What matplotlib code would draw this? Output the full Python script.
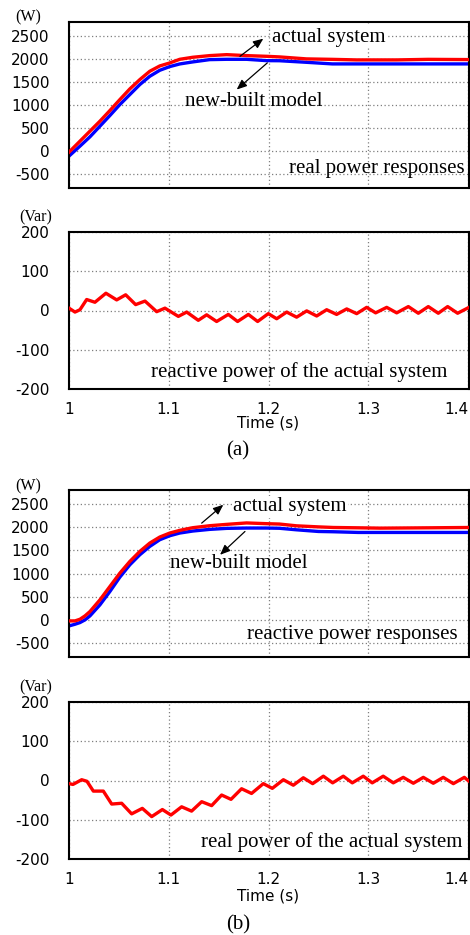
#! /usr/bin/env python
import matplotlib
matplotlib.use('Agg')
import matplotlib.pyplot as plt, numpy as np

"""
Step response of the inverter: real / reactive power, actual system vs new-built model
"""

plt.rcParams['axes.unicode_minus'] = False

# (a) real power step
t_pa = [1.0, 1.011, 1.021, 1.031, 1.041, 1.051, 1.061, 1.071, 1.081, 1.091,
        1.101, 1.111, 1.124, 1.141, 1.158, 1.178, 1.198, 1.211, 1.238, 1.264,
        1.288, 1.3285, 1.36, 1.401]
P_act_a = [-22, 216, 433, 649, 880, 1118, 1349, 1551, 1732, 1847,
           1912, 1991, 2035, 2071, 2092, 2071, 2056, 2043, 2000, 1990,
           1978, 1978, 1990, 1985]
P_mod_a = [-108, 108, 310, 541, 772, 1010, 1227, 1443, 1623, 1753,
           1833, 1890, 1934, 1984, 1991, 1991, 1962, 1960, 1926, 1891,
           1891, 1891, 1891, 1891]

t_qa = [1.0, 1.006, 1.011, 1.0177, 1.026, 1.037, 1.0478, 1.0568, 1.0668, 1.0762,
        1.0879, 1.0962, 1.1096, 1.118, 1.1296, 1.138, 1.148, 1.1597, 1.169, 1.1798,
        1.1891, 1.1998, 1.2082, 1.2182, 1.2282, 1.2383, 1.2483, 1.2583, 1.2683, 1.2784,
        1.2884, 1.2984, 1.3074, 1.3185, 1.3285, 1.3402, 1.3502, 1.3602, 1.3702, 1.3796,
        1.3896, 1.401]
Q_act_a = [6, -4, 2, 28, 21, 44, 27, 40, 15, 24,
           -3, 6, -15, -4, -25, -11, -28, -10, -28, -10,
           -28, -8, -21, -4, -17, -1, -14, 2, -10, 4,
           -8, 8, -6, 8, -6, 10, -7, 10, -7, 10,
           -7, 8]

# (b) reactive power step
t_pb = [1.0, 1.006, 1.011, 1.016, 1.021, 1.031, 1.041, 1.051, 1.061, 1.071,
        1.081, 1.091, 1.101, 1.111, 1.124, 1.141, 1.158, 1.178, 1.198, 1.211,
        1.228, 1.25, 1.265, 1.29, 1.312, 1.36, 1.401]
P_act_b = [-22, -22, 14, 86, 180, 432, 720, 1008, 1260, 1476,
           1656, 1786, 1872, 1930, 1987, 2030, 2059, 2090, 2074, 2066,
           2028, 2005, 1992, 1985, 1978, 1985, 1992]
P_mod_b = [-130, -94, -58, 0, 86, 324, 612, 922, 1188, 1404,
           1584, 1728, 1814, 1872, 1915, 1951, 1973, 1980, 1980, 1975,
           1942, 1906, 1900, 1885, 1885, 1885, 1885]

t_qb = [1.0, 1.004, 1.0127, 1.018, 1.0244, 1.0344, 1.0428, 1.0528, 1.0628, 1.0735,
        1.0829, 1.0936, 1.1022, 1.1129, 1.1229, 1.133, 1.143, 1.153, 1.1624, 1.173,
        1.183, 1.1948, 1.2038, 1.2149, 1.2249, 1.2349, 1.2443, 1.255, 1.2643, 1.275,
        1.284, 1.295, 1.304, 1.315, 1.3251, 1.3351, 1.3452, 1.3552, 1.3652, 1.3752,
        1.3853, 1.3963, 1.401]
Q_act_b = [-8, -10, 2, -2, -27, -27, -60, -58, -85, -71,
           -92, -74, -88, -67, -78, -54, -64, -37, -48, -21,
           -33, -8, -20, 2, -12, 7, -8, 11, -6, 11,
           -6, 11, -6, 11, -6, 8, -7, 8, -7, 8,
           -8, 8, -2]

P_ticks = [-500, 0, 500, 1000, 1500, 2000, 2500]
Q_ticks = [-200, -100, 0, 100, 200]
t_ticks = [1.0, 1.1, 1.2, 1.3, 1.4]
t_labels = ['1', '1.1', '1.2', '1.3', '1.4']

SERIF = 'Liberation Serif'
SANS = 'DejaVu Sans'
W, H = 470., 935.


def NewAxes(fig, top, bottom, ylim, yticks, xlabels=False):
    ax = fig.add_axes([69/W, 1 - bottom/H, 400/W, (bottom - top)/H])
    ax.set_xlim(1.0, 1.401)
    ax.set_ylim(*ylim)
    ax.set_yticks(yticks)
    ax.set_xticks(t_ticks)
    ax.grid(True, ls=(0, (1, 2)), c='#7f7f7f', lw=0.9)
    ax.set_axisbelow(True)
    for s in ax.spines.values():
        s.set_linewidth(1.5)
        s.set_color('k')
    ax.tick_params(length=0, labelsize=11)
    ax.tick_params(axis='y', pad=14)
    ax.tick_params(axis='x', pad=9)
    if xlabels:
        ax.set_xticklabels(t_labels)
        # last label sits flush against the right edge
        ax.get_xticklabels()[-1].set_ha('right')
    else:
        ax.set_xticklabels([])
    for lab in ax.get_yticklabels() + ax.get_xticklabels():
        lab.set_family(SANS)
    return ax


def Label(ax, x, y, s, ha='left', box=False):
    kw = {}
    if box:
        kw['bbox'] = dict(fc='w', ec='none', pad=1)
    ax.text(x, y, s, ha=ha, va='center', family=SERIF, size=15, zorder=4, **kw)


def Arrow(ax, tail, head):
    ax.annotate('', xy=head, xytext=tail, zorder=5,
                arrowprops=dict(arrowstyle='-|>,head_length=0.6,head_width=0.25',
                                color='k', lw=0.9, shrinkA=0, shrinkB=0))


def TimeLabel(ax, dy):
    ax.annotate('Time (s)', xy=(1.2, 0), xycoords=ax.get_xaxis_transform(),
                xytext=(0, -dy), textcoords='offset pixels', ha='center', va='center',
                family=SANS, size=11)


fig = plt.figure(figsize=(4.7, 9.35), dpi=100, facecolor='w')

# ---- (a) ----
ax1 = NewAxes(fig, 22, 188, (-800, 2800), P_ticks)
ax1.plot(t_pa, P_mod_a, c='#0000ff', lw=2.4, zorder=2)
ax1.plot(t_pa, P_act_a, c='#ff0000', lw=2.4, zorder=3)
Label(ax1, 1.2035, 2468, 'actual system', box=True)
Label(ax1, 1.1163, 1076, 'new-built model')
Label(ax1, 1.397, -374, 'real power responses', ha='right')
Arrow(ax1, (1.1714, 2056), (1.1948, 2439))
Arrow(ax1, (1.1988, 1913), (1.1681, 1335))

ax2 = NewAxes(fig, 232, 389, (-200, 200), Q_ticks, xlabels=True)
ax2.plot(t_qa, Q_act_a, c='#ff0000', lw=2.4, zorder=3, solid_joinstyle='round')
Label(ax2, 1.0822, -157, 'reactive power of the actual system')
TimeLabel(ax2, 34)

# ---- (b) ----
ax3 = NewAxes(fig, 490, 657, (-800, 2800), P_ticks)
ax3.plot(t_pb, P_mod_b, c='#0000ff', lw=2.4, zorder=2)
ax3.plot(t_pb, P_act_b, c='#ff0000', lw=2.4, zorder=3)
Label(ax3, 1.1644, 2439, 'actual system', box=True)
Label(ax3, 1.1013, 1208, 'new-built model')
Label(ax3, 1.390, -324, 'reactive power responses', ha='right')
Arrow(ax3, (1.133, 2086), (1.1547, 2482))
Arrow(ax3, (1.1764, 1906), (1.1514, 1403))

ax4 = NewAxes(fig, 702, 859, (-200, 200), Q_ticks, xlabels=True)
ax4.plot(t_qb, Q_act_b, c='#ff0000', lw=2.4, zorder=3, solid_joinstyle='round')
Label(ax4, 1.1323, -157, 'real power of the actual system')
TimeLabel(ax4, 37)

# units and sub-captions
for x, y, s in [(28, 17, '(W)'), (36, 217, '(Var)'), (28, 486, '(W)'), (36, 687, '(Var)')]:
    fig.text(x/W, 1 - y/H, s, ha='center', va='center', family=SERIF, size=11.5)
fig.text(238/W, 1 - 451/H, '(a)', ha='center', va='center', family=SERIF, size=15)
fig.text(238/W, 1 - 925/H, '(b)', ha='center', va='center', family=SERIF, size=15)

fig.savefig('out.png', dpi=100, facecolor='w')
